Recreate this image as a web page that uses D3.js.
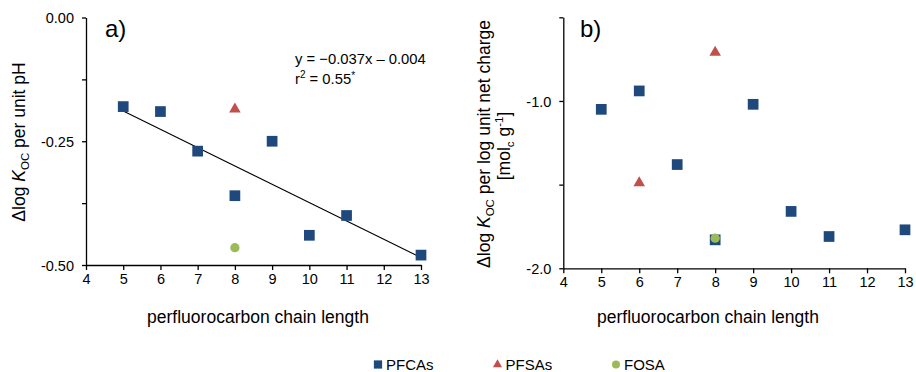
<!DOCTYPE html>
<html>
<head>
<meta charset="utf-8">
<script src="https://cdn.jsdelivr.net/npm/d3@7"></script>
<style>
  html, body { margin: 0; padding: 0; background: #fff; }
  svg { display: block; font-family: "Liberation Sans", Arial, sans-serif; }
</style>
</head>
<body>
<svg id="chart" width="916" height="372"></svg>
<script>
// Chain lengths and sorption sensitivities
const pfcaChain   = [5, 6, 7, 8, 9, 10, 11, 13];
const pfcaPH      = [-0.18, -0.19, -0.27, -0.36, -0.25, -0.44, -0.40, -0.48];
const pfcaCharge  = [-1.05, -0.94, -1.38, -1.83, -1.02, -1.66, -1.81, -1.77];

const pfsaChainPH = [8];
const pfsaPH      = [-0.185];
const pfsaChainCh = [6, 8];
const pfsaCharge  = [-1.49, -0.71];

const fosaChain   = [8];
const fosaPH      = [-0.465];
const fosaCharge  = [-1.82];

// Regression for PFCAs vs pH: y = slope * x + intercept
const fitSlope = -0.037;
const fitIntercept = -0.004;
const fitRange = [5, 13];

const xTicks = [4, 5, 6, 7, 8, 9, 10, 11, 12, 13];
const yTicksA = [0, -0.125, -0.25, -0.375, -0.5];
const yLabelsA = [0, -0.25, -0.5];
const yTicksB = [-0.5, -1.0, -1.5, -2.0];
const yLabelsB = [-1.0, -2.0];

const seriesNames = ["PFCAs", "PFSAs", "FOSA"];
const colors = { PFCAs: "#1F497D", PFSAs: "#C0504D", FOSA: "#9BBB59" };

const svg = d3.select("#chart");
const FONT = "Liberation Sans, Arial, sans-serif";

// plain hyphen for negative tick labels
const hyphen = f => d => f(d).replace("\u2212", "-");

function panel(opts) {
  const g = svg.append("g");
  const x = d3.scaleLinear().domain([4, 13]).range(opts.xRange);
  const y = d3.scaleLinear().domain(opts.yDomain).range(opts.yRange);

  // x axis
  const xAxis = d3.axisBottom(x).tickValues(xTicks).tickSize(5).tickSizeOuter(0)
    .tickFormat(d3.format("d"));
  const gx = g.append("g").attr("transform", `translate(0,${opts.yRange[0]})`).call(xAxis);
  gx.select(".domain").attr("stroke", "#000").attr("stroke-width", 1.3);
  gx.selectAll(".tick line").attr("stroke", "#000").attr("stroke-width", 1.3);
  gx.selectAll(".tick text").attr("font-size", 14.5).attr("font-family", FONT)
    .attr("fill", "#000").attr("dy", "0").attr("y", 19);

  // y axis
  const yAxis = d3.axisLeft(y).tickValues(opts.yTicks).tickSize(4).tickSizeOuter(0)
    .tickFormat(d => opts.yLabels.some(v => Math.abs(v - d) < 1e-9) ? hyphen(opts.fmt)(d) : "");
  const gy = g.append("g").attr("transform", `translate(${opts.xRange[0]},0)`).call(yAxis);
  gy.select(".domain").attr("stroke", "#000").attr("stroke-width", 1.3);
  gy.selectAll(".tick line").attr("stroke", "#000").attr("stroke-width", 1.3);
  gy.selectAll(".tick text").attr("font-size", 14.5).attr("font-family", FONT)
    .attr("fill", "#000").attr("x", -12).attr("dy", "0.36em");

  // axis title
  g.append("text")
    .attr("x", opts.xTitleX).attr("y", 323)
    .attr("text-anchor", "middle").attr("font-size", 17.5).attr("fill", "#000")
    .text("perfluorocarbon chain length");

  // panel letter
  g.append("text").attr("x", opts.letterX).attr("y", 37)
    .attr("font-size", 24).attr("fill", "#000").text(opts.letter);

  return { g, x, y };
}

const A = panel({
  xRange: [86, 421], yDomain: [-0.5, 0], yRange: [265, 17.5],
  yTicks: yTicksA, yLabels: yLabelsA, fmt: d3.format(".2f"),
  xTitleX: 258, letter: "a)", letterX: 105
});
const B = panel({
  xRange: [563.3, 905], yDomain: [-2, -0.5], yRange: [268.3, 17.3],
  yTicks: yTicksB, yLabels: yLabelsB, fmt: d3.format(".1f"),
  xTitleX: 708, letter: "b)", letterX: 580
});

// y axis titles (rotated, with sub/superscripts)
function kocTitle(parent, cx, cy, rest) {
  const t = parent.append("text")
    .attr("transform", `translate(${cx},${cy}) rotate(-90)`)
    .attr("text-anchor", "middle").attr("font-size", 17.5).attr("fill", "#000");
  t.append("tspan").text("\u0394log ");
  t.append("tspan").attr("font-style", "italic").text("K");
  t.append("tspan").attr("font-size", 11.5).attr("dy", 4).text("OC");
  t.append("tspan").attr("dy", -4).text(rest);
  return t;
}
kocTitle(A.g, 25, 142, " per unit pH");
kocTitle(B.g, 490, 144, " per log unit net charge");
{
  const t = B.g.append("text")
    .attr("transform", `translate(510,146) rotate(-90)`)
    .attr("text-anchor", "middle").attr("font-size", 17.5).attr("fill", "#000");
  t.append("tspan").text("[mol");
  t.append("tspan").attr("font-size", 11.5).attr("dy", 4).text("c");
  t.append("tspan").attr("dy", -4).text(" g");
  t.append("tspan").attr("font-size", 11.5).attr("dy", -7).text("-1");
  t.append("tspan").attr("dy", 7).text("]");
}

// regression line in panel a
A.g.append("line")
  .attr("x1", A.x(fitRange[0])).attr("y1", A.y(fitSlope * fitRange[0] + fitIntercept))
  .attr("x2", A.x(fitRange[1])).attr("y2", A.y(fitSlope * fitRange[1] + fitIntercept))
  .attr("stroke", "#000").attr("stroke-width", 1.1);

// equation text
{
  const t1 = A.g.append("text").attr("x", 295).attr("y", 64)
    .attr("font-size", 14.8).attr("fill", "#000");
  t1.text("y = \u22120.037x \u2013 0.004");
  const t2 = A.g.append("text").attr("x", 295).attr("y", 84)
    .attr("font-size", 14.8).attr("fill", "#000");
  t2.append("tspan").text("r");
  t2.append("tspan").attr("font-size", 10).attr("dy", -6).text("2");
  t2.append("tspan").attr("dy", 6).text(" = 0.55");
  t2.append("tspan").attr("font-size", 10).attr("dy", -5).text("*");
}

const sqSym = d3.symbol().type(d3.symbolSquare).size(115);
const triSym = d3.symbol().type(d3.symbolTriangle).size(58);
const cirSym = d3.symbol().type(d3.symbolCircle).size(68);

function plotSeries(P, xs, ys, sym, color) {
  P.g.append("g").selectAll("path")
    .data(xs.map((v, i) => [v, ys[i]]))
    .join("path")
    .attr("d", sym)
    .attr("transform", d => `translate(${P.x(d[0])},${P.y(d[1])})`)
    .attr("fill", color);
}

plotSeries(A, pfcaChain, pfcaPH, sqSym, colors.PFCAs);
plotSeries(A, pfsaChainPH, pfsaPH, triSym, colors.PFSAs);
plotSeries(A, fosaChain, fosaPH, cirSym, colors.FOSA);

plotSeries(B, pfcaChain, pfcaCharge, sqSym, colors.PFCAs);
plotSeries(B, pfsaChainCh, pfsaCharge, triSym, colors.PFSAs);
plotSeries(B, fosaChain, fosaCharge, cirSym, colors.FOSA);

// legend
const legendX = [378, 497.5, 616];
const legendSyms = [
  d3.symbol().type(d3.symbolSquare).size(68),
  d3.symbol().type(d3.symbolTriangle).size(36),
  d3.symbol().type(d3.symbolCircle).size(50)
];
const lg = svg.append("g");
seriesNames.forEach((name, i) => {
  lg.append("path").attr("d", legendSyms[i])
    .attr("transform", `translate(${legendX[i]},364.5)`)
    .attr("fill", colors[name]);
  lg.append("text").attr("x", legendX[i] + 8).attr("y", 370)
    .attr("font-size", 15).attr("fill", "#000").text(name);
});
</script>
</body>
</html>
